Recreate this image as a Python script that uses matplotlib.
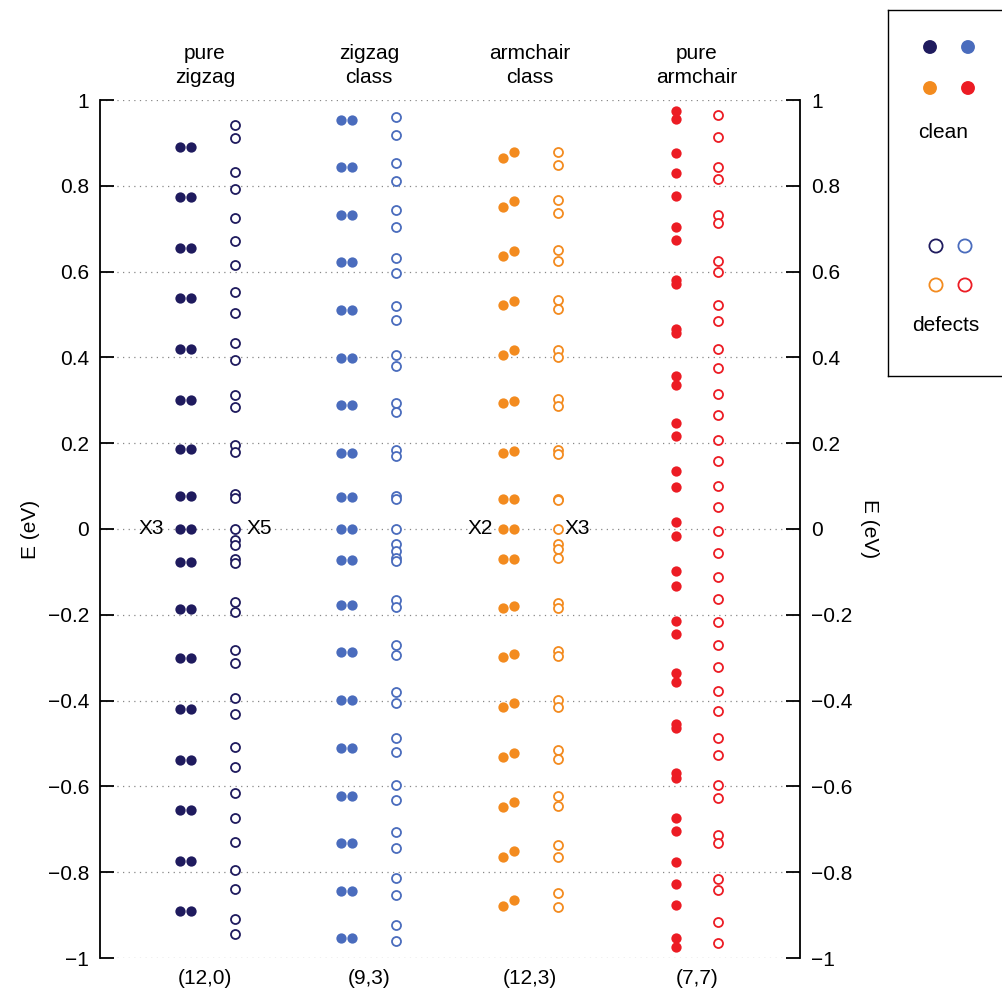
import matplotlib
matplotlib.use("Agg")
import matplotlib.pyplot as plt
from matplotlib.ticker import FuncFormatter

plt.rcParams["font.family"] = ["Liberation Sans", "DejaVu Sans"]

# chirality labels and headers
chiralities = ["(12,0)", "(9,3)", "(12,3)", "(7,7)"]
headers = ["pure\nzigzag", "zigzag\nclass", "armchair\nclass", "pure\narmchair"]

# energy levels (eV), clean tubes
zz_clean = [0.890, 0.775, 0.656, 0.538, 0.420, 0.301, 0.186, 0.076, 0.0,
            -0.076, -0.186, -0.301, -0.420, -0.538, -0.656, -0.775, -0.891]
zc_clean = [0.953, 0.843, 0.732, 0.622, 0.510, 0.398, 0.289, 0.178, 0.074, 0.0,
            -0.072, -0.177, -0.287, -0.399, -0.511, -0.622, -0.733, -0.843, -0.954]
ac_clean_a = [0.864, 0.750, 0.636, 0.521, 0.406, 0.293, 0.178, 0.069, 0.0,
              -0.071, -0.183, -0.298, -0.416, -0.532, -0.647, -0.765, -0.879]
ac_clean_b = [0.878, 0.765, 0.648, 0.532, 0.417, 0.298, 0.182, 0.069, 0.0,
              -0.071, -0.180, -0.292, -0.406, -0.521, -0.636, -0.751, -0.865]
aa_clean = [0.975, 0.955, 0.877, 0.830, 0.776, 0.705, 0.674, 0.580, 0.571,
            0.466, 0.457, 0.356, 0.336, 0.246, 0.217, 0.135, 0.099, 0.017,
            -0.017, -0.098, -0.134, -0.215, -0.245, -0.335, -0.356, -0.455,
            -0.464, -0.569, -0.580, -0.673, -0.703, -0.776, -0.828, -0.876,
            -0.954, -0.975]

# energy levels (eV), tubes with defects
zz_defect = [0.942, 0.911, 0.833, 0.793, 0.724, 0.672, 0.615, 0.553, 0.504,
             0.433, 0.394, 0.312, 0.285, 0.196, 0.180, 0.081, 0.073, 0.0,
             -0.026, -0.037, -0.071, -0.079, -0.169, -0.193, -0.282, -0.313,
             -0.395, -0.431, -0.507, -0.554, -0.615, -0.673, -0.730, -0.795,
             -0.840, -0.910, -0.944]
zc_defect = [0.961, 0.918, 0.852, 0.812, 0.744, 0.705, 0.631, 0.596, 0.520,
             0.487, 0.406, 0.380, 0.293, 0.273, 0.183, 0.169, 0.076, 0.071, 0.0,
             -0.035, -0.051, -0.068, -0.074, -0.165, -0.181, -0.270, -0.294,
             -0.379, -0.406, -0.488, -0.519, -0.597, -0.632, -0.706, -0.743,
             -0.814, -0.853, -0.923, -0.960]
ac_defect = [0.879, 0.848, 0.767, 0.737, 0.650, 0.625, 0.534, 0.512, 0.417,
             0.402, 0.303, 0.287, 0.184, 0.175, 0.070, 0.068, 0.0,
             -0.035, -0.047, -0.068, -0.172, -0.183, -0.284, -0.296, -0.399,
             -0.414, -0.515, -0.537, -0.622, -0.645, -0.737, -0.765, -0.849,
             -0.880]
aa_defect = [0.965, 0.913, 0.843, 0.817, 0.732, 0.713, 0.625, 0.600, 0.522,
             0.486, 0.419, 0.375, 0.315, 0.266, 0.207, 0.159, 0.100, 0.052,
             -0.004, -0.057, -0.111, -0.164, -0.216, -0.270, -0.321, -0.378,
             -0.424, -0.488, -0.527, -0.597, -0.628, -0.713, -0.733, -0.817,
             -0.841, -0.915, -0.964]

NAVY = "#1f1b5e"
BLUE = "#4a6cbd"
ORANGE = "#f38b1f"
RED = "#ec1c24"
FS = 15

FILLED = dict(s=55, linewidths=0, zorder=3)
HOLLOW = dict(s=42, facecolors="white", linewidths=1.3, zorder=3)

fig = plt.figure(figsize=(10.02, 9.97), dpi=100)
ax = fig.add_axes([100 / 1002, 1 - 958 / 997, 700 / 1002, 858 / 997])

# x positions in units of 100 px from the left spine
ax.scatter([0.80] * len(zz_clean), zz_clean, color=NAVY, **FILLED)
ax.scatter([0.91] * len(zz_clean), zz_clean, color=NAVY, **FILLED)
ax.scatter([1.35] * len(zz_defect), zz_defect, edgecolors=NAVY, **HOLLOW)

ax.scatter([2.41] * len(zc_clean), zc_clean, color=BLUE, **FILLED)
ax.scatter([2.52] * len(zc_clean), zc_clean, color=BLUE, **FILLED)
ax.scatter([2.96] * len(zc_defect), zc_defect, edgecolors=BLUE, **HOLLOW)

ax.scatter([4.03] * len(ac_clean_a), ac_clean_a, color=ORANGE, **FILLED)
ax.scatter([4.14] * len(ac_clean_b), ac_clean_b, color=ORANGE, **FILLED)
ax.scatter([4.58] * len(ac_defect), ac_defect, edgecolors=ORANGE, **HOLLOW)

ax.scatter([5.76] * len(aa_clean), aa_clean, color=RED, **FILLED)
ax.scatter([6.18] * len(aa_defect), aa_defect, edgecolors=RED, **HOLLOW)

ax.set_xlim(0, 7)
ax.set_ylim(-1, 1)

# spines / ticks
for side in ["top", "bottom"]:
    ax.spines[side].set_visible(False)
for side in ["left", "right"]:
    ax.spines[side].set_linewidth(1.3)
ax.set_xticks([])
ax.set_yticks([-1, -0.8, -0.6, -0.4, -0.2, 0, 0.2, 0.4, 0.6, 0.8, 1])
ax.yaxis.set_major_formatter(FuncFormatter(lambda v, p: f"{v:g}".replace("-", "\u2212")))
ax.tick_params(axis="y", which="both", direction="in", length=10, width=1.3,
               left=True, right=True, labelleft=True, labelright=True,
               labelsize=FS, pad=8)
ax.grid(axis="y", linestyle=(0, (1, 3.5)), color="#888888", linewidth=0.9)

ax.text(-0.70, 0, "E (eV)", rotation=90, ha="center", va="center", fontsize=FS, clip_on=False)
ax.text(7.70, 0, "E (eV)", rotation=-90, ha="center", va="center", fontsize=FS, clip_on=False)

# column headers and chirality labels
centers = [1.05, 2.69, 4.30, 5.97]
for cx, h, c in zip(centers, headers, chiralities):
    ax.text(cx, 1.081, h, ha="center", va="center", fontsize=FS,
            linespacing=1.3, clip_on=False)
    ax.text(cx, -1.047, c, ha="center", va="center", fontsize=FS, clip_on=False)

# degeneracy marks at E = 0
ax.text(0.64, 0, "X3", ha="right", va="center", fontsize=FS)
ax.text(1.47, 0, "X5", ha="left", va="center", fontsize=FS)
ax.text(3.93, 0, "X2", ha="right", va="center", fontsize=FS)
ax.text(4.65, 0, "X3", ha="left", va="center", fontsize=FS)

# legend box (runs off the right edge)
lg = fig.add_axes([888 / 1002, 1 - 376 / 997, 130 / 1002, 366 / 997])
lg.set_xlim(888, 1018)
lg.set_ylim(376, 10)
lg.set_xticks([])
lg.set_yticks([])
lg.spines["right"].set_visible(False)
for side in ["left", "top", "bottom"]:
    lg.spines[side].set_linewidth(1.0)
lg.scatter([930, 968, 930, 968], [47, 47, 88, 88],
           color=[NAVY, BLUE, ORANGE, RED], s=100, linewidths=0)
lg.text(943, 133, "clean", ha="center", va="center", fontsize=FS)
lg.scatter([936, 965, 936, 965], [246, 246, 285, 285], facecolors="white",
           edgecolors=[NAVY, BLUE, ORANGE, RED], s=90, linewidths=1.3)
lg.text(946, 326, "defects", ha="center", va="center", fontsize=FS)

fig.savefig("out.png", dpi=100)
